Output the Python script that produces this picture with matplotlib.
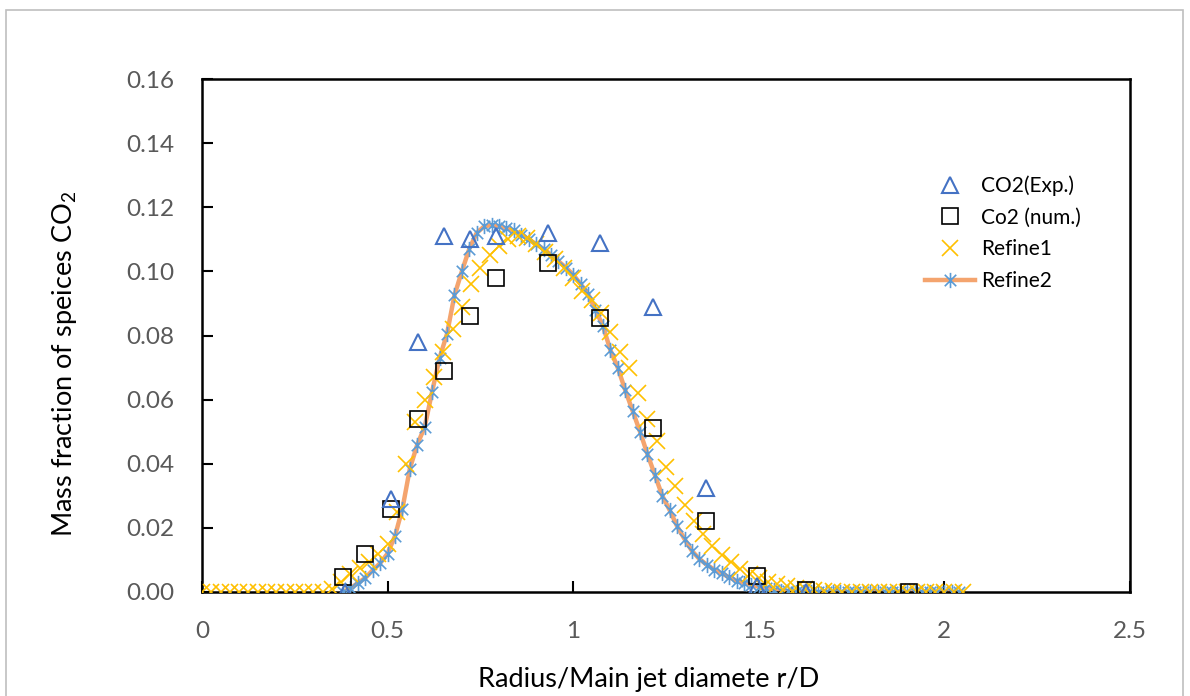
import matplotlib
matplotlib.use("Agg")
import matplotlib.pyplot as plt
from matplotlib.path import Path
from matplotlib.patches import Rectangle

plt.rcParams['font.family'] = ['Lato', 'DejaVu Sans']

# experimental points
exp_x = [0.386, 0.51, 0.583, 0.653, 0.723, 0.793, 0.933, 1.073, 1.216, 1.357, 1.494, 1.626]
exp_y = [0.000, 0.029, 0.078, 0.111, 0.110, 0.111, 0.112, 0.109, 0.089, 0.0325, 0.002, 0.000]

# numerical points
num_x = [0.38, 0.44, 0.51, 0.583, 0.653, 0.723, 0.793, 0.933, 1.073, 1.216, 1.357, 1.494, 1.626, 1.904]
num_y = [0.0047, 0.012, 0.026, 0.054, 0.069, 0.086, 0.098, 0.1027, 0.0855, 0.051, 0.022, 0.005, 0.0006, 0.0]

# Refine1 (step 0.025)
ref1_x = [0.000, 0.025, 0.050, 0.075, 0.100, 0.125, 0.150, 0.175, 0.200, 0.225,
          0.250, 0.275, 0.300, 0.325, 0.350, 0.375, 0.400, 0.425, 0.450, 0.475,
          0.500, 0.525, 0.550, 0.575, 0.600, 0.625, 0.650, 0.675, 0.700, 0.725,
          0.750, 0.775, 0.800, 0.825, 0.850, 0.875, 0.900, 0.925, 0.950, 0.975,
          1.000, 1.025, 1.050, 1.075, 1.100, 1.125, 1.150, 1.175, 1.200, 1.225,
          1.250, 1.275, 1.300, 1.325, 1.350, 1.375, 1.400, 1.425, 1.450, 1.475,
          1.500, 1.525, 1.550, 1.575, 1.600, 1.625, 1.650, 1.675, 1.700, 1.725,
          1.750, 1.775, 1.800, 1.825, 1.850, 1.875, 1.900, 1.925, 1.950, 1.975,
          2.000, 2.025, 2.050]
ref1_y = [0, 0, 0, 0, 0, 0, 0, 0, 0, 0,
          0, 0, 0, 0, 0.001, 0.003, 0.0055, 0.0075, 0.0095, 0.012,
          0.015, 0.025, 0.040, 0.053, 0.060, 0.067, 0.075, 0.082, 0.089, 0.096,
          0.101, 0.105, 0.108, 0.110, 0.111, 0.1105, 0.1085, 0.106, 0.104, 0.101,
          0.098, 0.094, 0.091, 0.087, 0.081, 0.075, 0.070, 0.062, 0.054, 0.047,
          0.039, 0.033, 0.027, 0.022, 0.018, 0.0145, 0.0115, 0.0093, 0.0073, 0.0057,
          0.0043, 0.0032, 0.0024, 0.0018, 0.0013, 0.0009, 0.0006, 0.0004, 0.0002, 0,
          0, 0, 0, 0, 0, 0, 0, 0, 0, 0,
          0, 0, 0]

# Refine2 (step 0.02)
ref2_x = [0.38, 0.40, 0.42, 0.44, 0.46, 0.48, 0.50, 0.52, 0.54, 0.56,
          0.58, 0.60, 0.62, 0.64, 0.66, 0.68, 0.70, 0.72, 0.74, 0.76,
          0.78, 0.80, 0.82, 0.84, 0.86, 0.88, 0.90, 0.92, 0.94, 0.96,
          0.98, 1.00, 1.02, 1.04, 1.06, 1.08, 1.10, 1.12, 1.14, 1.16,
          1.18, 1.20, 1.22, 1.24, 1.26, 1.28, 1.30, 1.32, 1.34, 1.36,
          1.38, 1.40, 1.42, 1.44, 1.46, 1.48, 1.50, 1.52, 1.54, 1.56,
          1.58, 1.60, 1.62, 1.64, 1.66, 1.68, 1.70, 1.72, 1.74, 1.76,
          1.78, 1.80, 1.82, 1.84, 1.86, 1.88, 1.90, 1.92, 1.94, 1.96,
          1.98, 2.00, 2.02, 2.04]
ref2_y = [0.000, 0.0012, 0.0028, 0.0044, 0.0068, 0.0090, 0.0120, 0.0175, 0.0260, 0.0385,
          0.0460, 0.0515, 0.0625, 0.0730, 0.0805, 0.0925, 0.1000, 0.1070, 0.1120, 0.1140,
          0.1145, 0.1140, 0.1134, 0.1128, 0.1115, 0.1100, 0.1085, 0.1070, 0.1052, 0.1032,
          0.1012, 0.0990, 0.0960, 0.0930, 0.0880, 0.0830, 0.0755, 0.0700, 0.0630, 0.0565,
          0.0500, 0.0430, 0.0365, 0.0300, 0.0255, 0.0205, 0.0165, 0.0128, 0.0103, 0.0085,
          0.0070, 0.0058, 0.0046, 0.0035, 0.0028, 0.0022, 0.0016, 0.0011, 0.0007, 0.0004,
          0.0002, 0, 0, 0, 0, 0, 0, 0, 0, 0,
          0, 0, 0, 0, 0, 0, 0, 0, 0, 0,
          0, 0, 0, 0]

xticks = [0, 0.5, 1, 1.5, 2, 2.5]
xtick_labels = ['0', '0.5', '1', '1.5', '2', '2.5']
yticks = [0.00, 0.02, 0.04, 0.06, 0.08, 0.10, 0.12, 0.14, 0.16]

# Excel-style asterisk: vertical bar plus an X
asterisk = Path([(0, -1), (0, 1), (-0.75, -0.75), (0.75, 0.75), (-0.75, 0.75), (0.75, -0.75)],
                [Path.MOVETO, Path.LINETO, Path.MOVETO, Path.LINETO, Path.MOVETO, Path.LINETO])

fig = plt.figure(figsize=(11.9, 6.96), dpi=100)
fig.patches.append(Rectangle((6 / 1190, -0.05), 1177 / 1190, 1 - 10 / 696 + 0.05,
                             transform=fig.transFigure, fill=False,
                             edgecolor='#BFBFBF', linewidth=1.2))
ax = fig.add_axes([202 / 1190, 1 - 592 / 696, 928 / 1190, 513 / 696])

ax.plot(ref2_x, ref2_y, color='#F4A46E', linewidth=3.2, zorder=2)
ax.plot(ref2_x, ref2_y, linestyle='none', marker=asterisk, markersize=11,
        markeredgecolor='#5B9BD5', markeredgewidth=1.2, markerfacecolor='none', zorder=3)
ax.plot(ref1_x, ref1_y, linestyle='none', marker='x', markersize=11,
        markeredgecolor='#FFC000', markeredgewidth=1.2, zorder=4)
ax.plot(num_x, num_y, linestyle='none', marker='s', markersize=12,
        markeredgecolor='#000000', markerfacecolor='none', markeredgewidth=1.2, zorder=5)
ax.plot(exp_x, exp_y, linestyle='none', marker='^', markersize=11,
        markeredgecolor='#4472C4', markerfacecolor='none', markeredgewidth=1.5, zorder=6)

# legend handles
h_exp, = ax.plot([], [], linestyle='none', marker='^', markersize=11,
                 markeredgecolor='#4472C4', markerfacecolor='none', markeredgewidth=1.5)
h_num, = ax.plot([], [], linestyle='none', marker='s', markersize=12,
                 markeredgecolor='#000000', markerfacecolor='none', markeredgewidth=1.2)
h_r1, = ax.plot([], [], linestyle='none', marker='x', markersize=11,
                markeredgecolor='#FFC000', markeredgewidth=1.2)
h_r2, = ax.plot([], [], color='#F4A46E', linewidth=3.2, marker=asterisk, markersize=11,
                markeredgecolor='#5B9BD5', markeredgewidth=1.2)
ax.legend([h_exp, h_num, h_r1, h_r2], ['CO2(Exp.)', 'Co2 (num.)', 'Refine1', 'Refine2'],
          loc='upper left', bbox_to_anchor=(0.779, 0.812), frameon=False, fontsize=15,
          handlelength=2.4, labelspacing=0.56, handletextpad=0.3, borderpad=0,
          borderaxespad=0)

ax.set_xlim(0, 2.5)
ax.set_ylim(0, 0.16)
ax.set_xticks(xticks)
ax.set_xticklabels(xtick_labels)
ax.set_yticks(yticks)
ax.set_yticklabels(['%.2f' % v for v in yticks])
ax.tick_params(axis='both', direction='in', length=8, width=1.5, color='black',
               labelsize=17.5, labelcolor='#595959')
ax.tick_params(axis='x', pad=21)
ax.tick_params(axis='y', pad=20)
for s in ax.spines.values():
    s.set_linewidth(1.8)
    s.set_color('black')

ax.set_xlabel('Radius/Main jet diamete r/D', fontsize=19.5)
ax.set_ylabel('Mass fraction of speices CO$_\\mathregular{2}$', fontsize=19.5)
ax.xaxis.set_label_coords(0.481, -0.146)
ax.yaxis.set_label_coords(-0.133, 0.444)

fig.savefig('out.png', dpi=100)
